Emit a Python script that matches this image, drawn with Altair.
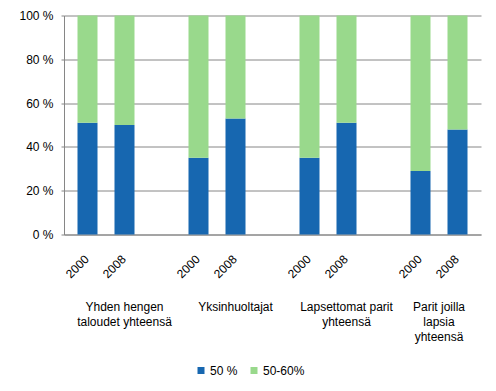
import altair as alt
import pandas as pd

groups = ["Yhden hengen\ntaloudet yhteensä", "Yksinhuoltajat",
          "Lapsettomat parit\nyhteensä", "Parit joilla\nlapsia\nyhteensä"]
years = ["2000", "2008"]
series = ["50 %", "50-60%"]
share_50 = [51, 50, 35, 53, 35, 51, 29, 48]
share_50_60 = [49, 50, 65, 47, 65, 49, 71, 52]
colors = ["#1767b0", "#99d98c"]
y_ticks = [0, 20, 40, 60, 80, 100]

FONT = "Liberation Sans"
GRAY = "#868686"

rows, year_rows, group_rows = [], [], []
for gi, g in enumerate(groups):
    slots = []
    for yi, yr in enumerate(years):
        k = gi * len(years) + yi
        slot = gi * (len(years) + 1) + yi
        slots.append(slot)
        xc = slot + 0.5
        rows.append(dict(x=xc, year=yr, series=series[0], value=share_50[k], ord=0))
        rows.append(dict(x=xc, year=yr, series=series[1], value=share_50_60[k], ord=1))
        year_rows.append(dict(x=xc, year=yr))
    span_end = slots[-1] + 1 if gi < len(groups) - 1 else slots[-1]
    group_rows.append(dict(x=(slots[0] + span_end + 1) / 2, label=g))

df = pd.DataFrame(rows)
ydf = pd.DataFrame(year_rows)
gdf = pd.DataFrame(group_rows)
n_slots = len(groups) * (len(years) + 1) - 1
xscale = alt.Scale(domain=[0, n_slots], nice=False, zero=False)

bars = alt.Chart(df).mark_bar(size=20).encode(
    x=alt.X("x:Q", scale=xscale,
            axis=alt.Axis(title=None, labels=False, ticks=False, grid=False,
                          domainColor=GRAY)),
    y=alt.Y("value:Q", stack="zero", scale=alt.Scale(domain=[0, 100], nice=False),
            axis=alt.Axis(title=None, values=y_ticks, labelExpr="datum.value + ' %'",
                          grid=True, gridColor=GRAY, domainColor=GRAY, tickColor=GRAY,
                          tickSize=3, labelPadding=8, labelFont=FONT, labelFontSize=12,
                          labelColor="#000000")),
    color=alt.Color("series:N", scale=alt.Scale(domain=series, range=colors),
                    legend=alt.Legend(title=None, orient="none", direction="horizontal",
                                      legendX=131, legendY=349, symbolType="square",
                                      symbolSize=49, symbolStrokeWidth=0,
                                      labelFont=FONT, labelFontSize=12,
                                      labelColor="#000000", columnPadding=10,
                                      labelOffset=3)),
    order=alt.Order("ord:Q"),
)

year_text = alt.Chart(ydf).mark_text(angle=315, align="right", baseline="middle",
                                     font=FONT, fontSize=12, color="#000000",
                                     dx=-1).encode(
    x=alt.X("x:Q", scale=xscale),
    y=alt.value(241),
    text="year:N",
)

group_text = alt.Chart(gdf).mark_text(align="center", baseline="top", lineBreak="\n",
                                      lineHeight=15, font=FONT, fontSize=12,
                                      color="#000000").encode(
    x=alt.X("x:Q", scale=xscale),
    y=alt.value(286),
    text="label:N",
)

chart = alt.layer(bars, year_text, group_text).properties(
    width=417, height=219,
    autosize=alt.AutoSizeParams(type="none"),
    padding={"left": 56, "top": 7.5, "right": 7, "bottom": 148.5},
).configure_view(stroke=None)

chart.save("out.html", embed_options={"renderer": "svg", "actions": False})
